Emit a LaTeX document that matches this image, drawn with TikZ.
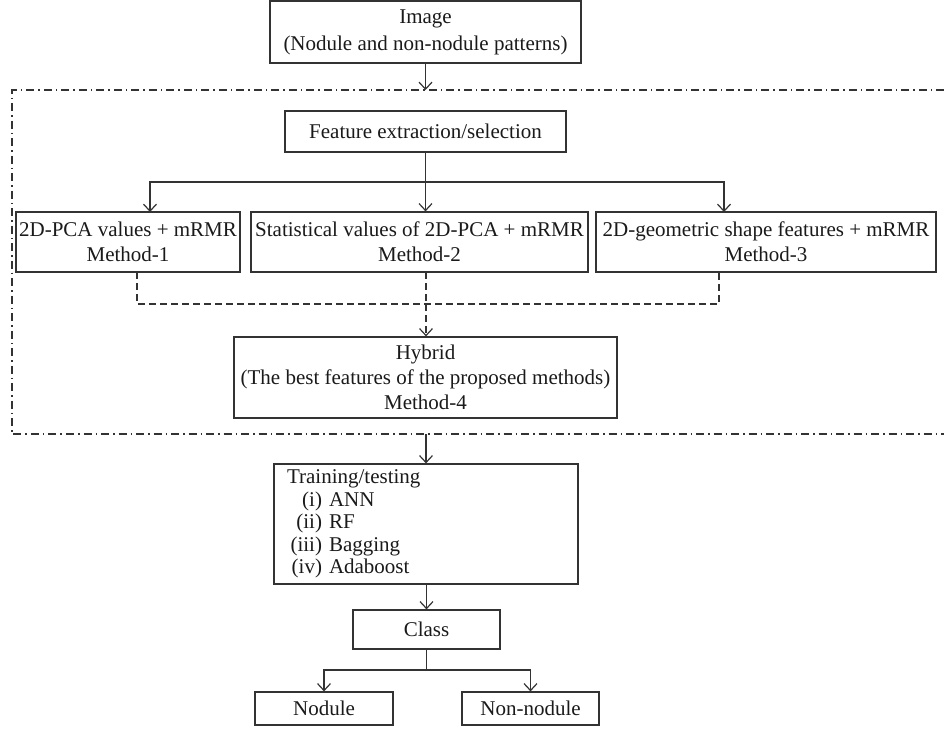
\documentclass[tikz,border=0pt]{standalone}
\usepackage{fontspec}
\setmainfont{Liberation Serif}
\usetikzlibrary{arrows.meta}
\definecolor{linec}{HTML}{333333}
\definecolor{textc}{HTML}{1A1A1A}
\begin{document}
\begin{tikzpicture}[x=1pt,y=-1pt,
  box/.style={draw=linec, line width=1.2pt, inner sep=0pt, align=center, text=textc, font=\fontsize{21}{25}\selectfont},
  ln/.style={draw=linec, line width=1.2pt},
  arr/.style={ln, -{Straight Barb[length=7pt,width=13pt]}},
  dsh/.style={ln, dash pattern=on 7pt off 4pt},
  dd/.style={ln, dash pattern=on 8pt off 4pt on 1.5pt off 4pt}]
\useasboundingbox (0,0) rectangle (944,729);

\node[box, minimum width=311pt, minimum height=62pt, font=\fontsize{21}{27}\selectfont] (img) at (425.5,32) {Image\\(Nodule and non-nodule patterns)};
\node[box, minimum width=281pt, minimum height=41pt] (feat) at (425.5,131.5) {Feature extraction/selection};
\node[box, minimum width=224pt, minimum height=60pt] (m1) at (128,242) {2D-PCA values + mRMR\\Method-1};
\node[box, minimum width=337pt, minimum height=60pt] (m2) at (419.5,242) {Statistical values of 2D-PCA + mRMR\\Method-2};
\node[box, minimum width=340pt, minimum height=60pt] (m3) at (766,242) {2D-geometric shape features + mRMR\\Method-3};
\node[box, minimum width=383pt, minimum height=81pt] (hyb) at (425.5,377.5) {Hybrid\\(The best features of the proposed methods)\\Method-4};
\node[box, minimum width=304pt, minimum height=120pt, text width=278pt, align=left, font=\fontsize{21}{22.5}\selectfont] (train) at (426,524) {Training/testing\\
\makebox[35pt][r]{(i)} ANN\\
\makebox[35pt][r]{(ii)} RF\\
\makebox[35pt][r]{(iii)} Bagging\\
\makebox[35pt][r]{(iv)} Adaboost};
\node[box, minimum width=147pt, minimum height=39pt] (cls) at (426.5,629.5) {Class};
\node[box, minimum width=138pt, minimum height=33pt] (nod) at (324,708.5) {Nodule};
\node[box, minimum width=137pt, minimum height=33pt] (non) at (530.5,708.5) {Non-nodule};

% frame
\coordinate (fr1) at (944,90);
\coordinate (fr2) at (12,90);
\coordinate (fr3) at (12,434);
\coordinate (fr4) at (944,434);
\draw[dd] (fr1) -- (fr2) -- (fr3) -- (fr4);

\draw[arr] (img.south) -- (img.south |- fr1);

% feature split
\coordinate (fs) at (425.5,182);
\coordinate (a1) at (150,212);
\coordinate (a3) at (724,212);
\draw[ln] (feat.south) -- (fs);
\draw[arr] (fs) -| (a1);
\draw[arr] (fs) -| (a3);
\draw[arr] (fs) -- (fs |- m2.north);

% dashed merge
\coordinate (b1) at (137,272);
\coordinate (b2) at (426,272);
\coordinate (b3) at (719,272);
\coordinate (dj) at (426,304);
\draw[dsh] (b1) |- (dj) -| (b3);
\draw[dsh] (b2) -- (dj);
\draw[dsh, arr] (dj) -- (dj |- hyb.north);

\draw[arr] (train.north |- fr3) -- (train.north);
\draw[arr] (cls.north |- train.south) -- (cls.north);

\coordinate (cs) at (426.5,670);
\draw[ln] (cls.south) -- (cs);
\draw[arr] (cs) -| (nod.north);
\draw[arr] (cs) -| (non.north);
\end{tikzpicture}
\end{document}
